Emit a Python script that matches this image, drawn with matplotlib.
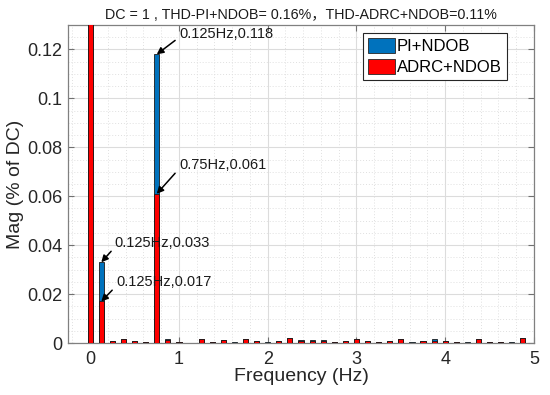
import matplotlib
matplotlib.use("Agg")
import matplotlib.pyplot as plt
import numpy as np
from matplotlib.ticker import MultipleLocator

plt.rcParams['font.family'] = ['Liberation Sans', 'Noto Sans CJK SC', 'DejaVu Sans']

freq = [0.0, 0.125, 0.25, 0.375, 0.5, 0.625, 0.75, 0.875, 1.0, 1.125,
        1.25, 1.375, 1.5, 1.625, 1.75, 1.875, 2.0, 2.125, 2.25, 2.375,
        2.5, 2.625, 2.75, 2.875, 3.0, 3.125, 3.25, 3.375, 3.5, 3.625,
        3.75, 3.875, 4.0, 4.125, 4.25, 4.375, 4.5, 4.625, 4.75, 4.875]

pi_ndob = [1.0, 0.033, 0.0008, 0.0016, 0.0009, 0.0006, 0.118, 0.0016, 0.0006, 0.0,
           0.0018, 0.0005, 0.0012, 0.0004, 0.0018, 0.0008, 0.0003, 0.0010, 0.0020, 0.0011,
           0.0011, 0.0011, 0.0006, 0.0010, 0.0018, 0.0008, 0.0006, 0.0008, 0.0018, 0.0003,
           0.0008, 0.0015, 0.0009, 0.0006, 0.0004, 0.0016, 0.0006, 0.0006, 0.0003, 0.0020]

adrc_ndob = [1.0, 0.017, 0.0008, 0.0016, 0.0009, 0.0006, 0.061, 0.0014, 0.0006, 0.0,
             0.0018, 0.0003, 0.0012, 0.0002, 0.0018, 0.0008, 0.0001, 0.0010, 0.0020, 0.0010,
             0.0010, 0.0007, 0.0006, 0.0010, 0.0018, 0.0008, 0.0006, 0.0008, 0.0018, 0.0001,
             0.0008, 0.0010, 0.0009, 0.0006, 0.0002, 0.0016, 0.0006, 0.0006, 0.0001, 0.0020]

series_names = ['PI+NDOB', 'ADRC+NDOB']
title_text = 'DC = 1 , THD-PI+NDOB= 0.16%，THD-ADRC+NDOB=0.11%'

annotations = [
    ('0.125Hz,0.118', (0.75, 0.118), (0.957, 0.1237), (1.0, 0.1265)),
    ('0.75Hz,0.061', (0.75, 0.061), (0.957, 0.0694), (1.0, 0.0729)),
    ('0.125Hz,0.033', (0.125, 0.033), (0.236, 0.0375), (0.27, 0.0408)),
    ('0.125Hz,0.017', (0.125, 0.017), (0.248, 0.0216), (0.29, 0.0249)),
]

fig = plt.figure(figsize=(5.5, 3.95), dpi=100)
ax = fig.add_axes([0.1236, 0.1316, 0.8473, 0.8051])

w = 0.058
ax.bar(freq, pi_ndob, width=w, color='#0072BD', edgecolor='#1a1a1a', linewidth=0.6,
       label=series_names[0], zorder=3)
ax.bar(freq, adrc_ndob, width=w, color='#FF0000', edgecolor='#1a1a1a', linewidth=0.6,
       label=series_names[1], zorder=4)

ax.set_xlim(-0.25, 5)
ax.set_ylim(0, 0.13)
ax.xaxis.set_minor_locator(MultipleLocator(0.2))
ax.yaxis.set_minor_locator(MultipleLocator(0.005))
ax.set_yticks([0, 0.02, 0.04, 0.06, 0.08, 0.1, 0.12])
ax.set_yticklabels(['0', '0.02', '0.04', '0.06', '0.08', '0.1', '0.12'])
ax.set_xticks([0, 1, 2, 3, 4, 5])
ax.set_xticklabels(['0', '1', '2', '3', '4', '5'])

ax.grid(which='major', color='#dcdcdc', linewidth=0.8, linestyle='-', zorder=0)
ax.grid(which='minor', color='#e0e0e0', linewidth=0.7, linestyle=(0, (1, 2)), zorder=0)
ax.set_axisbelow(True)

ax.tick_params(which='both', direction='in', top=True, right=True, colors='#707070',
               labelcolor='#262626', labelsize=13)
ax.tick_params(which='major', length=4, width=0.8)
ax.tick_params(axis='x', which='major', pad=6)
ax.tick_params(axis='y', which='major', pad=4)
ax.tick_params(which='minor', length=0)
for s in ax.spines.values():
    s.set_color('#808080')
    s.set_linewidth(0.9)

ax.set_xlabel('Frequency (Hz)', fontsize=14, color='#262626', labelpad=0)
ax.set_ylabel('Mag (% of DC)', fontsize=14, color='#262626', labelpad=2)
ax.set_title(title_text, fontsize=10.3, color='#1a1a1a', pad=4)

for text, head, tail, tpos in annotations:
    ax.annotate('', xy=head, xytext=tail,
                arrowprops=dict(arrowstyle='-|>', color='black', lw=1.1,
                                mutation_scale=10, shrinkA=0, shrinkB=0), zorder=6)
    ax.text(tpos[0], tpos[1], text, fontsize=10.5, color='#1a1a1a', ha='left', va='center',
            zorder=6)

leg = ax.legend(loc='upper right', bbox_to_anchor=(0.942, 0.975), fontsize=12,
                frameon=True, fancybox=False, edgecolor='#262626', framealpha=1,
                handlelength=1.6, handleheight=1.0, handletextpad=0.15,
                borderpad=0.3, labelspacing=0.3, borderaxespad=0)
leg.get_frame().set_linewidth(0.8)
for h in leg.legend_handles:
    h.set_edgecolor('#262626')

fig.savefig('out.png', dpi=100)
